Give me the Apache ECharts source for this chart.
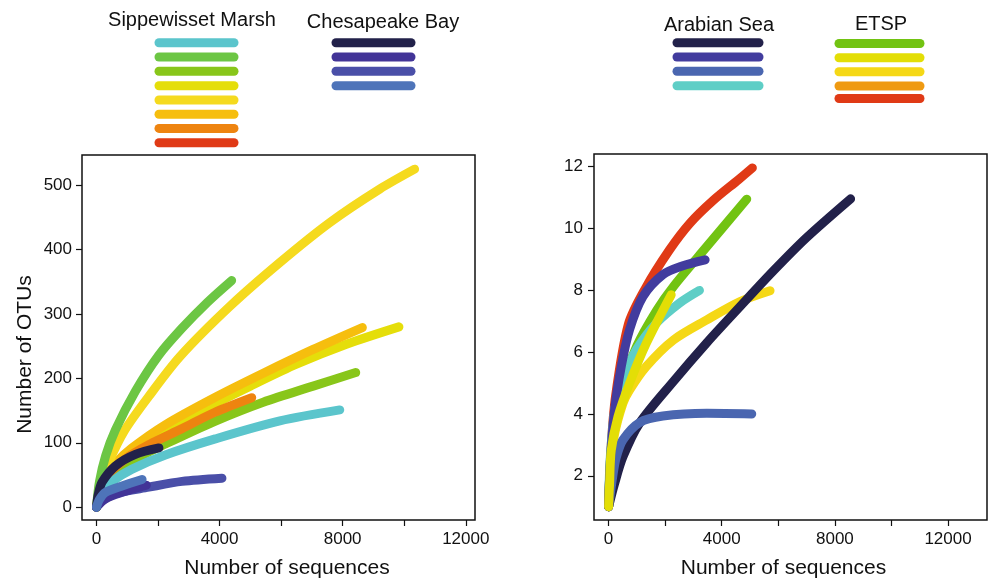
<!DOCTYPE html>
<html>
<head>
<meta charset="utf-8">
<script src="https://cdn.jsdelivr.net/npm/echarts@6/dist/echarts.min.js"></script>
<style>
  html, body { margin: 0; padding: 0; background: #fff; }
  #chart { width: 989px; height: 584px; }
</style>
</head>
<body>
<div id="chart"></div>
<script>
// left panel: Sippewisset Marsh + Chesapeake Bay, [sequences, OTUs]
const sipCyan = [[0,0],[80,14],[200,25],[509,40],[1158,59],[2238,81],[3860,106],[5959,134],[7905,151]];
const sipGreen = [[0,0],[100,40],[300,80],[616,120],[1265,180],[2024,236],[2780,278],[3600,318],[4392,352]];
const sipLime = [[0,0],[250,30],[616,52],[1400,78],[2238,98],[3830,133],[5418,163],[7040,188],[8424,209]];
const sipYellowA = [[0,0],[300,45],[600,63],[1200,88],[2300,122],[3900,162],[5000,188],[6500,222],[8121,253],[9828,280]];
const sipYellowB = [[0,0],[150,38],[400,70],[900,118],[1700,172],[2715,234],[4337,312],[5959,380],[7580,442],[9202,494],[10337,525]];
const sipAmber = [[0,0],[300,45],[616,68],[1158,92],[2238,128],[3830,170],[5418,208],[7040,245],[8640,279]];
const sipOrange = [[0,0],[300,45],[941,75],[1700,97],[2780,122],[3830,147],[5045,170]];
const chesNavy = [[0,0],[60,20],[185,39],[616,64],[1265,82],[2030,92]];
const chesIndigo = [[0,0],[292,13],[834,23],[1620,34]];
const chesViolet = [[0,0],[185,10],[616,21],[1700,31],[2780,40],[4077,45]];
const chesBlue = [[0,0],[100,12],[292,23],[834,33],[1482,43]];

// right panel: Arabian Sea + ETSP
const arNavy = [[0,1],[213,1.75],[507,2.61],[1095,3.7],[2294,5.05],[3473,6.3],[4649,7.47],[5824,8.62],[7003,9.7],[8556,10.95]];
const arIndigo = [[0,1],[60,2.4],[213,4.13],[448,5.53],[741,6.72],[1213,7.79],[1919,8.5],[2600,8.78],[3413,8.98]];
const arBlue = [[0,1],[150,2.0],[272,2.6],[507,3.16],[1095,3.72],[1919,3.93],[3473,4.02],[5061,4.0]];
const arCyan = [[0,1],[60,2.6],[250,4.3],[600,5.3],[978,6.07],[1684,6.93],[2506,7.58],[3213,7.99]];
const etGreen = [[0,1],[60,2.3],[200,3.7],[448,4.8],[1000,6.2],[1700,7.35],[2294,8.12],[3473,9.41],[4884,10.94]];
const etLime = [[0,1],[35,1.75],[95,2.83],[332,3.91],[741,4.99],[1331,6.28],[2213,7.85]];
const etYellow = [[0,1],[60,2.2],[200,3.3],[507,4.34],[741,4.77],[1331,5.53],[2294,6.39],[3473,7.04],[4649,7.63],[5708,7.98]];
const etRed = [[0,1],[80,2.8],[250,4.6],[700,6.9],[1296,8.05],[2153,9.3],[2884,10.17],[3700,10.9],[4590,11.57],[5083,11.95]];

// tick positions
const xTicks = [0, 2000, 4000, 6000, 8000, 10000, 12000];
const xLabels = [0, 4000, 8000, 12000];
const yTicksLeft = [0, 100, 200, 300, 400, 500];
const yTicksRight = [2, 4, 6, 8, 10, 12];

// legend swatches
const sipColors = ['#5BC5CC', '#6CC644', '#88C61A', '#E5DE0A', '#F5DA1E', '#F6BE0E', '#EE8410', '#E03A16'];
const chesColors = ['#22214A', '#423497', '#4A4FA8', '#4E74B9'];
const arColors = ['#22214A', '#423C9E', '#4A66B0', '#5ECEC6'];
const etColors = ['#72C312', '#E3DE06', '#F5D816', '#EF9A12', '#E03A16'];

const FONT = '"Liberation Sans", Arial, sans-serif';

function curve(data, color, idx) {
  return {
    type: 'line',
    xAxisIndex: idx,
    yAxisIndex: idx,
    data: data,
    smooth: 0.3,
    showSymbol: false,
    silent: true,
    lineStyle: { color: color, width: 9, cap: 'round', join: 'round' }
  };
}

function xAxis(idx, min, max, pad) {
  return {
    type: 'value', gridIndex: idx, min: min, max: max,
    splitLine: { show: false },
    axisLine: { show: false, onZero: false },
    axisTick: { show: true, customValues: xTicks, length: 6, lineStyle: { color: '#111', width: 1.2 } },
    axisLabel: { customValues: xLabels, margin: 11, color: '#111', fontSize: 17, fontFamily: FONT, formatter: v => String(v) },
    name: 'Number of sequences', nameLocation: 'middle', nameGap: 38,
    nameTextStyle: { color: '#111', fontSize: 21, fontFamily: FONT, padding: pad }
  };
}

function yAxis(idx, min, max, ticks) {
  return {
    type: 'value', gridIndex: idx, min: min, max: max,
    splitLine: { show: false },
    axisLine: { show: false, onZero: false },
    axisTick: { show: true, customValues: ticks, length: 6, lineStyle: { color: '#111', width: 1.2 } },
    axisLabel: { customValues: ticks, margin: 10, color: '#111', fontSize: 17, fontFamily: FONT, formatter: v => String(v) }
  };
}

function legendBlock(title, tx, ty, x1, x2, ys, colors) {
  const els = [{
    type: 'text', x: tx, y: ty,
    style: { text: title, fill: '#111', font: '20px ' + FONT, textAlign: 'center', textVerticalAlign: 'middle' }
  }];
  colors.forEach((c, i) => {
    els.push({
      type: 'line',
      shape: { x1: x1, y1: ys[i], x2: x2, y2: ys[i] },
      style: { stroke: c, lineWidth: 9, lineCap: 'round' }
    });
  });
  return els;
}

const rowsA = [42.7, 57, 71.3, 85.7, 100, 114.2, 128.4, 142.7];
const rowsB = [43.5, 57.7, 71.8, 86, 98.5];

const leftY = yAxis(0, -20, 547, yTicksLeft);
leftY.name = 'Number of OTUs';
leftY.nameLocation = 'middle';
leftY.nameGap = 46;
leftY.nameTextStyle = { color: '#111', fontSize: 21, fontFamily: FONT, padding: [0, 34, 0, 0] };

const rightY = yAxis(1, 0.57, 12.4, yTicksRight);
rightY.axisLabel.margin = 11;

const chart = echarts.init(document.getElementById('chart'));
chart.setOption({
  animation: false,
  backgroundColor: '#fff',
  grid: [
    { left: 82, top: 155, width: 393, height: 366, show: true, borderColor: '#111', borderWidth: 1.5 },
    { left: 594, top: 154, width: 393, height: 366, show: true, borderColor: '#111', borderWidth: 1.5 }
  ],
  xAxis: [
    xAxis(0, -470, 12300, [0, 0, 0, 17]),
    xAxis(1, -516, 13378, [0, 14, 0, 0])
  ],
  yAxis: [leftY, rightY],
  series: [
    curve(sipYellowA, '#E5DE0A', 0),
    curve(sipAmber, '#F6BE0E', 0),
    curve(sipYellowB, '#F5DA1E', 0),
    curve(sipGreen, '#6CC644', 0),
    curve(sipLime, '#88C61A', 0),
    curve(sipOrange, '#EE8410', 0),
    curve(sipCyan, '#5BC5CC', 0),
    curve(chesNavy, '#22214A', 0),
    curve(chesViolet, '#4A4FA8', 0),
    curve(chesIndigo, '#423497', 0),
    curve(chesBlue, '#4E74B9', 0),

    curve(etRed, '#E03A16', 1),
    curve(etGreen, '#72C312', 1),
    curve(arCyan, '#5ECEC6', 1),
    curve(etYellow, '#F5D816', 1),
    curve(arNavy, '#22214A', 1),
    curve(arBlue, '#4A66B0', 1),
    curve(arIndigo, '#423C9E', 1),
    curve(etLime, '#E3DE06', 1)
  ],
  graphic: [].concat(
    legendBlock('Sippewisset Marsh', 192, 20, 159, 234, rowsA, sipColors),
    legendBlock('Chesapeake Bay', 383, 22, 336, 411, rowsA, chesColors),
    legendBlock('Arabian Sea', 719, 25, 677, 759, rowsA, arColors),
    legendBlock('ETSP', 881, 24, 839, 920, rowsB, etColors)
  )
});
</script>
</body>
</html>
